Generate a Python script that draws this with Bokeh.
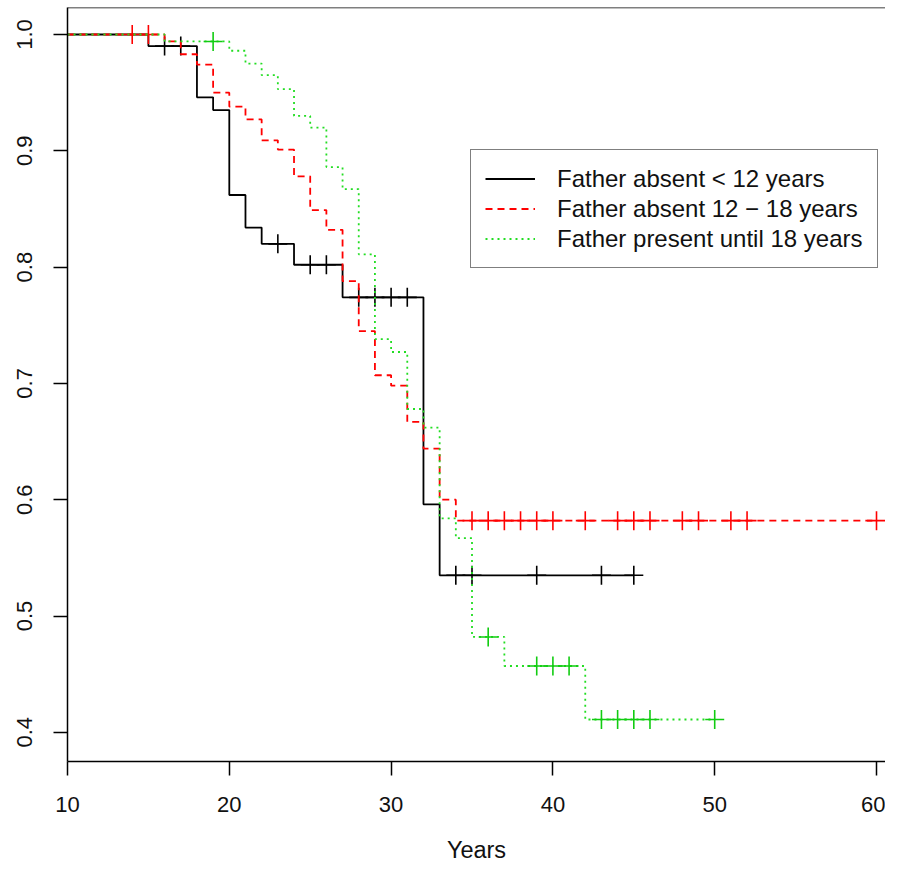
import numpy as np
from bokeh.plotting import figure
from bokeh.models import (Range1d, FixedTicker, Legend, LegendItem, Span,
                          PrintfTickFormatter)
from bokeh.embed import file_html
from bokeh.resources import INLINE

# ---- data ----
labels = ["Father absent < 12 years",
          "Father absent 12 \u2212 18 years",
          "Father present until 18 years"]

# Father absent < 12 years (black, solid)
t_a = [10, 15, 18, 19, 20, 21, 22, 24, 27, 32, 33, 45]
s_a = [1.0, 0.990, 0.946, 0.935, 0.862, 0.834, 0.820, 0.802, 0.774, 0.596, 0.535, 0.535]
c_a = [16, 17, 23, 25, 26, 28, 29, 30, 31, 34, 35, 39, 43, 45]

# Father absent 12 - 18 years (red, dashed)
t_b = [10, 16, 17, 18, 19, 20, 21, 22, 23, 24, 25, 26, 27, 28, 29, 30, 31, 32, 33, 34, 60]
s_b = [1.0, 0.994, 0.983, 0.974, 0.950, 0.938, 0.927, 0.909, 0.901, 0.878, 0.849, 0.832,
       0.788, 0.745, 0.707, 0.698, 0.667, 0.644, 0.600, 0.582, 0.582]
c_b = [14, 15, 35, 36, 37, 38, 39, 40, 42, 44, 45, 46, 48, 49, 51, 52, 60]

# Father present until 18 years (green, dotted)
t_c = [10, 16, 20, 21, 22, 23, 24, 25, 26, 27, 28, 29, 30, 31, 32, 33, 34, 35, 37, 42, 50]
s_c = [1.0, 0.994, 0.986, 0.975, 0.965, 0.953, 0.930, 0.920, 0.886, 0.867, 0.811, 0.738,
       0.727, 0.678, 0.662, 0.584, 0.567, 0.482, 0.457, 0.411, 0.411]
c_c = [19, 36, 39, 40, 41, 43, 44, 45, 46, 50]

x_ticks = [10, 20, 30, 40, 50, 60]
y_ticks = [0.4, 0.5, 0.6, 0.7, 0.8, 0.9, 1.0]
x_label = "Years"

X_MIN, X_MAX = 10.0, 60.556
Y_MIN, Y_MAX = 0.3749, 1.0232

FONT = "Liberation Sans"

p = figure(width=885, height=865, output_backend="svg", toolbar_location=None,
           x_range=Range1d(X_MIN, X_MAX), y_range=Range1d(Y_MIN, Y_MAX),
           min_border_left=67, min_border_right=0, min_border_top=7,
           min_border_bottom=104)
p.outline_line_color = None
p.xgrid.visible = False
p.ygrid.visible = False
p.background_fill_color = "white"
p.border_fill_color = "white"

for ax in (p.xaxis[0], p.yaxis[0]):
    ax.axis_line_color = "black"
    ax.axis_line_width = 1.5
    ax.major_tick_line_color = "black"
    ax.major_tick_line_width = 1.5
    ax.major_tick_out = 14
    ax.major_tick_in = 0
    ax.minor_tick_line_color = None
    ax.major_label_text_font = FONT
    ax.major_label_text_font_size = "22px"
    ax.major_label_text_color = "#111111"

p.xaxis.major_label_standoff = 21
p.yaxis.major_label_standoff = 21

p.xaxis.ticker = FixedTicker(ticks=x_ticks)
p.xaxis.formatter = PrintfTickFormatter(format="%d")
p.yaxis.ticker = FixedTicker(ticks=y_ticks)
p.yaxis.formatter = PrintfTickFormatter(format="%.1f")
p.yaxis.major_label_orientation = "vertical"

p.xaxis.axis_label = x_label
p.xaxis.axis_label_text_font = FONT
p.xaxis.axis_label_text_font_size = "23.5px"
p.xaxis.axis_label_text_font_style = "normal"
p.xaxis.axis_label_text_color = "#111111"
p.xaxis.axis_label_standoff = 22

p.add_layout(Span(location=Y_MAX, dimension="width", line_color="black", line_width=1.5))

series = [
    (t_a, s_a, c_a, "black", "solid", "black"),
    (t_b, s_b, c_b, "#ff0000", "7 5", "#ff0000"),
    (t_c, s_c, c_c, "#22dd22", "2 4", "#11cc11"),
]

items = []
for (t, s, c, col, dash, mcol), lab in zip(series, labels):
    t = np.asarray(t, dtype=float)
    s = np.asarray(s, dtype=float)
    r = p.step(t, s, mode="after", line_color=col, line_width=1.8, line_dash=dash)
    ci = np.asarray(c, dtype=float)
    idx = np.searchsorted(t, ci, side="right") - 1
    p.scatter(ci, s[idx], marker="cross", size=19, line_color=mcol, line_width=1.6)
    items.append(LegendItem(label=lab, renderers=[r]))

legend = Legend(items=items, location=(403, 493))
legend.label_text_font = FONT
legend.label_text_font_size = "24px"
legend.label_text_color = "#111111"
legend.glyph_width = 50
legend.glyph_height = 29
legend.label_height = 29
legend.label_standoff = 22
legend.spacing = 1
legend.padding = 14
legend.margin = 0
legend.border_line_color = "black"
legend.border_line_width = 1.3
legend.background_fill_color = "white"
legend.background_fill_alpha = 1.0
p.add_layout(legend)

open("out.html", "w").write(file_html(p, INLINE))
